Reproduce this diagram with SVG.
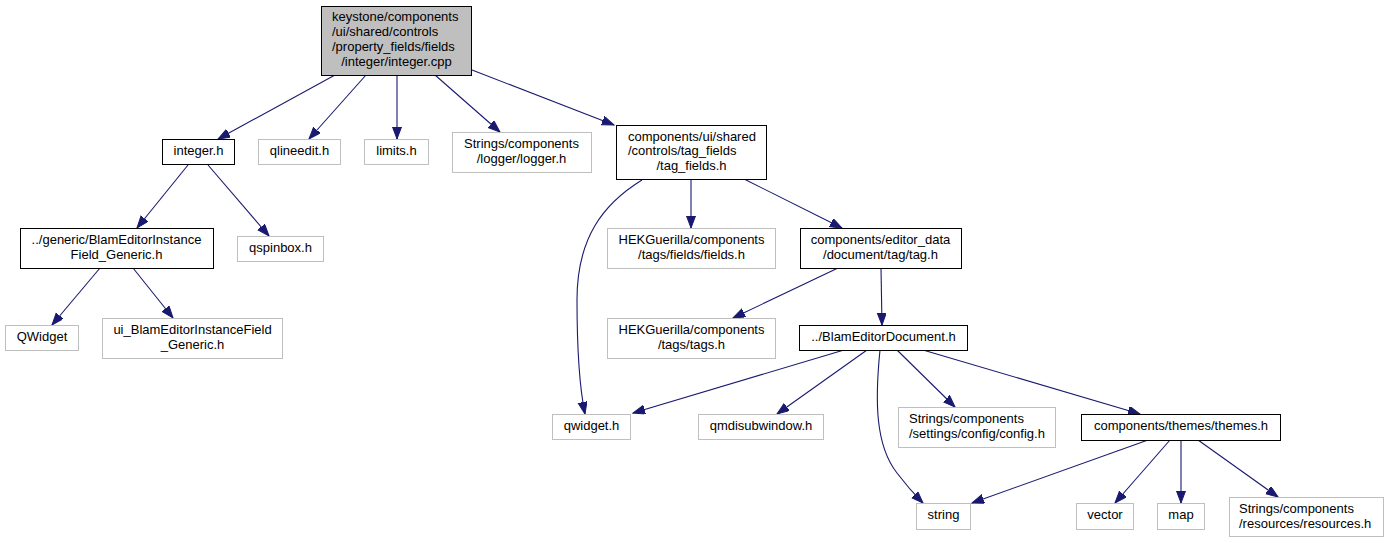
<svg xmlns="http://www.w3.org/2000/svg" width="1389" height="543" viewBox="0 0 1389 543">
<style>
  .n rect { fill: #ffffff; stroke: #000000; stroke-width: 1; }
  .g rect { fill: #ffffff; stroke: #bfbfbf; stroke-width: 1; }
  .root rect { fill: #bfbfbf; stroke: #000000; stroke-width: 1; }
  text { font-family: "Liberation Sans", Arial, sans-serif; font-size: 13px; fill: #000000; }
  .c { text-anchor: middle; }
  #edges path { fill: none; stroke: #191970; stroke-width: 1.1; marker-end: url(#ah); }
</style>
<defs>
  <marker id="ah" markerUnits="userSpaceOnUse" markerWidth="14" markerHeight="11" refX="12" refY="4.5" orient="auto">
    <path d="M0,0 L12,4.5 L0,9 z" fill="#191970" stroke="#191970" stroke-width="1"/>
  </marker>
</defs>
<rect width="1389" height="543" fill="#ffffff"/>
<g id="edges">
  <path d="M335,75 L218,139"/>
  <path d="M366,75 L309,139"/>
  <path d="M397,75 L397,139"/>
  <path d="M435,75 L500,132"/>
  <path d="M472,70 L614,125"/>
  <path d="M188,165 L137,228"/>
  <path d="M208,165 L269,236"/>
  <path d="M100,268 L52,325"/>
  <path d="M133,268 L173,318"/>
  <path d="M642,180 C603,204 577,238 577,300 C577,345 579,385 585,414"/>
  <path d="M691,179 L691,228"/>
  <path d="M744,179 L842,228"/>
  <path d="M838,268 L733,318"/>
  <path d="M881,268 L882,325"/>
  <path d="M844,350 L633,413"/>
  <path d="M867,350 L777,414"/>
  <path d="M880,350 C875,400 875,445 897,473 C906,485 914,494 923,503"/>
  <path d="M897,350 L955,407"/>
  <path d="M923,350 L1140,414"/>
  <path d="M1148,440 L972,503"/>
  <path d="M1170,440 L1115,503"/>
  <path d="M1181,440 L1181,503"/>
  <path d="M1198,440 L1278,497"/>
</g>
<g id="node-root" class="root">
  <rect x="321.5" y="6.5" width="150" height="69"/>
  <text x="332" y="21">keystone/components</text>
  <text x="332" y="36">/ui/shared/controls</text>
  <text x="332" y="51">/property_fields/fields</text>
  <text x="396.5" y="66" class="c">/integer/integer.cpp</text>
</g>
<g id="node-integer-h" class="n">
  <rect x="162.5" y="139.5" width="72" height="25"/>
  <text x="198.5" y="155" class="c">integer.h</text>
</g>
<g id="node-qlineedit" class="g">
  <rect x="258.5" y="139.5" width="82" height="25"/>
  <text x="299.5" y="155" class="c">qlineedit.h</text>
</g>
<g id="node-limits" class="g">
  <rect x="364.5" y="139.5" width="64" height="25"/>
  <text x="396.5" y="155" class="c">limits.h</text>
</g>
<g id="node-logger" class="g">
  <rect x="452.5" y="132.5" width="139" height="40"/>
  <text x="521.5" y="148" class="c">Strings/components</text>
  <text x="521.5" y="163" class="c">/logger/logger.h</text>
</g>
<g id="node-tag-fields" class="n">
  <rect x="616.5" y="125.5" width="150" height="54"/>
  <text x="628" y="141">components/ui/shared</text>
  <text x="628" y="155">/controls/tag_fields</text>
  <text x="691.5" y="170" class="c">/tag_fields.h</text>
</g>
<g id="node-blamei-generic" class="n">
  <rect x="20.5" y="228.5" width="193" height="40"/>
  <text x="116.5" y="244" class="c">../generic/BlamEditorInstance</text>
  <text x="116.5" y="259" class="c">Field_Generic.h</text>
</g>
<g id="node-qspinbox" class="g">
  <rect x="237.5" y="236.5" width="86" height="25"/>
  <text x="280.5" y="252" class="c">qspinbox.h</text>
</g>
<g id="node-QWidget" class="g">
  <rect x="5.5" y="325.5" width="73" height="25"/>
  <text x="42" y="341" class="c">QWidget</text>
</g>
<g id="node-ui-blamei" class="g">
  <rect x="102.5" y="318.5" width="180" height="40"/>
  <text x="192.5" y="334" class="c">ui_BlamEditorInstanceField</text>
  <text x="192.5" y="349" class="c">_Generic.h</text>
</g>
<g id="node-hek-fields" class="g">
  <rect x="607.5" y="228.5" width="168" height="40"/>
  <text x="691.5" y="244" class="c">HEKGuerilla/components</text>
  <text x="691.5" y="259" class="c">/tags/fields/fields.h</text>
</g>
<g id="node-tag-h" class="n">
  <rect x="800.5" y="228.5" width="161" height="40"/>
  <text x="880.5" y="244" class="c">components/editor_data</text>
  <text x="880.5" y="259" class="c">/document/tag/tag.h</text>
</g>
<g id="node-hek-tags" class="g">
  <rect x="607.5" y="318.5" width="168" height="40"/>
  <text x="691.5" y="334" class="c">HEKGuerilla/components</text>
  <text x="691.5" y="349" class="c">/tags/tags.h</text>
</g>
<g id="node-blameditordocument" class="n">
  <rect x="799.5" y="325.5" width="168" height="25"/>
  <text x="883.5" y="341" class="c">../BlamEditorDocument.h</text>
</g>
<g id="node-qwidget-h" class="g">
  <rect x="552.5" y="414.5" width="78" height="25"/>
  <text x="591.5" y="430" class="c">qwidget.h</text>
</g>
<g id="node-qmdisubwindow" class="g">
  <rect x="698.5" y="414.5" width="125" height="25"/>
  <text x="761" y="430" class="c">qmdisubwindow.h</text>
</g>
<g id="node-config" class="g">
  <rect x="898.5" y="407.5" width="157" height="40"/>
  <text x="909" y="423">Strings/components</text>
  <text x="909" y="438">/settings/config/config.h</text>
</g>
<g id="node-themes" class="n">
  <rect x="1081.5" y="414.5" width="199" height="26"/>
  <text x="1181" y="430" class="c">components/themes/themes.h</text>
</g>
<g id="node-string" class="g">
  <rect x="916.5" y="503.5" width="54" height="26"/>
  <text x="943.5" y="519" class="c">string</text>
</g>
<g id="node-vector" class="g">
  <rect x="1076.5" y="503.5" width="57" height="26"/>
  <text x="1105" y="519" class="c">vector</text>
</g>
<g id="node-map" class="g">
  <rect x="1157.5" y="503.5" width="47" height="26"/>
  <text x="1181" y="519" class="c">map</text>
</g>
<g id="node-resources" class="g">
  <rect x="1229.5" y="497.5" width="154" height="39"/>
  <text x="1239" y="513">Strings/components</text>
  <text x="1239" y="528">/resources/resources.h</text>
</g>
</svg>
